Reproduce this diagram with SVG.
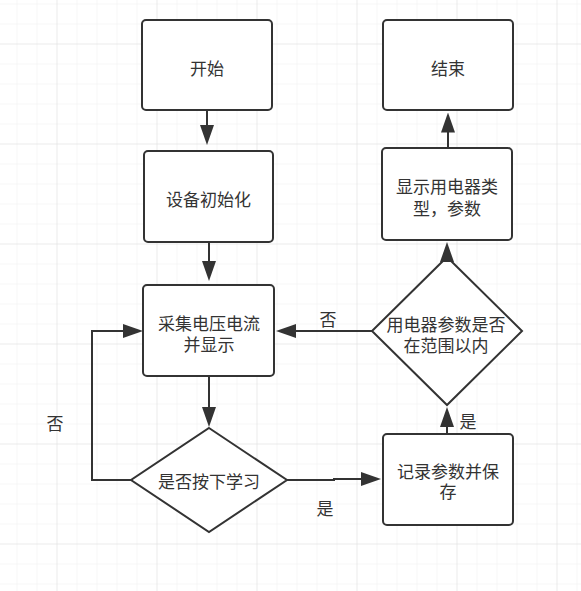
<svg xmlns="http://www.w3.org/2000/svg" width="581" height="591" viewBox="0 0 581 591">
<defs>
<pattern id="minor" x="16.5" y="3.5" width="20" height="20" patternUnits="userSpaceOnUse">
<path d="M0,0 V20 M0,0 H20" fill="none" stroke="#efefef" stroke-width="1"/>
</pattern>
<pattern id="major" x="56.5" y="43.5" width="100" height="100" patternUnits="userSpaceOnUse">
<path d="M0,0 V100 M0,0 H100" fill="none" stroke="#e2e2e2" stroke-width="1"/>
</pattern>
<marker id="arr" markerUnits="userSpaceOnUse" markerWidth="20" markerHeight="14" refX="1" refY="7" orient="auto">
<path d="M0,0 L20,7 L0,14 z" fill="#333"/>
</marker>
</defs>
<style>
.box{fill:#fff;stroke:#333;stroke-width:2}
.t{font-family:"Noto Sans CJK SC","Noto Sans",sans-serif;font-size:17px;fill:#333;text-anchor:middle;dominant-baseline:central}
.c{fill:none;stroke:#333;stroke-width:2;marker-end:url(#arr)}
</style>
<rect width="581" height="591" fill="#fff"/>
<rect width="581" height="591" fill="url(#minor)"/>
<rect width="581" height="591" fill="url(#major)"/>

<g id="start"><rect class="box" x="142" y="20" width="130" height="90" rx="4"/><text class="t" x="207" y="67">开始</text></g>
<g id="init"><rect class="box" x="144" y="151" width="129" height="91" rx="4"/><text class="t" x="208.5" y="198.5">设备初始化</text></g>
<g id="collect"><rect class="box" x="143" y="285" width="131" height="91" rx="4"/><text class="t" x="209" y="322">采集电压电流<tspan x="209" dy="20.5">并显示</tspan></text></g>
<g id="learn"><polygon class="box" points="209,428 287,480 209,532 131,480"/><text class="t" x="209" y="480.5">是否按下学习</text></g>
<g id="record"><rect class="box" x="383" y="434" width="130" height="91" rx="4"/><text class="t" x="448" y="470">记录参数并保<tspan x="448" dy="20">存</tspan></text></g>
<g id="check"><polygon class="box" points="447,257 522,331 447,405 372,331"/><text class="t" x="446" y="323.5">用电器参数是否<tspan x="446" dy="20.5">在范围以内</tspan></text></g>
<g id="show"><rect class="box" x="382" y="148" width="130" height="92" rx="4"/><text class="t" x="447" y="185">显示用电器类<tspan x="447" dy="21.5">型，参数</tspan></text></g>
<g id="end"><rect class="box" x="383" y="20" width="130" height="90" rx="4"/><text class="t" x="448" y="67">结束</text></g>

<g id="connectors">
<path class="c" d="M207,111 V126"/>
<path class="c" d="M209,242 V262"/>
<path class="c" d="M209,376 V408"/>
<path class="c" d="M131,480 H92 V331 H124"/>
<path class="c" d="M287,480 H334 V479 H362"/>
<path class="c" d="M447,434 V426"/>
<path class="c" d="M372,331 H295"/>
<path class="c" d="M447,262 V261"/>
<path class="c" d="M448,148 V131.5"/>
<text class="t" x="328" y="318">否</text>
<text class="t" x="468" y="420">是</text>
<text class="t" x="325" y="507">是</text>
<text class="t" x="55" y="422">否</text>
</g>
</svg>
